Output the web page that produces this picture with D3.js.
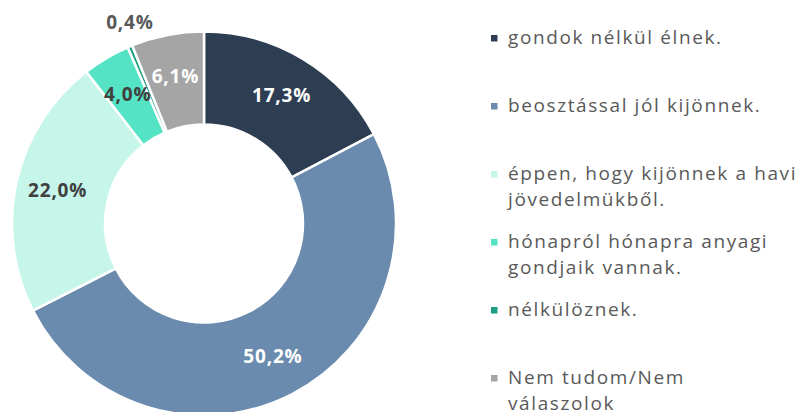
<!DOCTYPE html>
<html>
<head>
<meta charset="utf-8">
<script src="https://cdn.jsdelivr.net/npm/d3@7"></script>
<style>
  body { margin: 0; background: #fff; }
  svg { display: block; }
  .lbl { font-family: "Open Sans", sans-serif; font-weight: 700; letter-spacing: 0.8px; }
  .leg { font-family: "Open Sans", sans-serif; fill: #595959; letter-spacing: 1.6px; }
</style>
</head>
<body>
<svg id="chart"></svg>
<script>
// chart data
const categories = [
  ['gondok nélkül élnek.'],
  ['beosztással jól kijönnek.'],
  ['éppen, hogy kijönnek a havi', 'jövedelmükből.'],
  ['hónapról hónapra anyagi', 'gondjaik vannak.'],
  ['nélkülöznek.'],
  ['Nem tudom/Nem', 'válaszolok']
]
const values = [17.3, 50.2, 22.0, 4.0, 0.4, 6.1]
const valueLabels = ['17,3%', '50,2%', '22,0%', '4,0%', '0,4%', '6,1%']
const colors = ['#2e3e52', '#6a8bae', '#c6f5ea', '#55e3c6', '#1b9e82', '#a5a5a5']
const labelColors = ['#ffffff', '#ffffff', '#404040', '#404040', '#595959', '#ffffff']

const width = 809
const height = 412
const cx = 204, cy = 223.5
const outerR = 192, innerR = 99

var svg = d3.select('#chart').attr('width', width).attr('height', height)

var pie = d3.pie().sort(null).value(d => d)
var arcs = pie(values)
var arc = d3.arc().innerRadius(innerR).outerRadius(outerR)
var labelArc = d3.arc().innerRadius(150).outerRadius(150)
var outsideArc = d3.arc().innerRadius(218).outerRadius(218)

var g = svg.append('g').attr('transform', `translate(${cx},${cy})`)

g.selectAll('path')
  .data(arcs)
  .enter().append('path')
  .attr('d', arc)
  .attr('fill', (d, i) => colors[i])
  .attr('stroke', '#fff')
  .attr('stroke-width', 2.5)

// data labels, the tiny slice gets its label outside
g.selectAll('text')
  .data(arcs)
  .enter().append('text')
  .attr('class', 'lbl')
  .attr('font-size', 19)
  .attr('text-anchor', 'middle')
  .attr('dy', '0.35em')
  .attr('transform', (d, i) => {
    let c = values[i] < 1 ? outsideArc.centroid(d) : labelArc.centroid(d)
    if (values[i] < 1) c[0] += 10
    return `translate(${c[0]},${c[1]})`
  })
  .attr('fill', (d, i) => labelColors[i])
  .text((d, i) => valueLabels[i])

// legend
var legendY = d3.scalePoint().domain(d3.range(categories.length)).range([38, 378])
var legend = svg.append('g').selectAll('g')
  .data(categories)
  .enter().append('g')
  .attr('transform', (d, i) => `translate(491,${legendY(i)})`)

legend.append('rect')
  .attr('x', 0).attr('y', -3)
  .attr('width', 6.5).attr('height', 6.5)
  .attr('fill', (d, i) => colors[i])

legend.each(function (lines) {
  var t = d3.select(this).append('text')
    .attr('class', 'leg')
    .attr('font-size', 19)
  lines.forEach((line, k) => {
    t.append('tspan')
      .attr('x', 17)
      .attr('y', k * 25.5)
      .attr('dy', '0.33em')
      .text(line)
  })
})
</script>
</body>
</html>
